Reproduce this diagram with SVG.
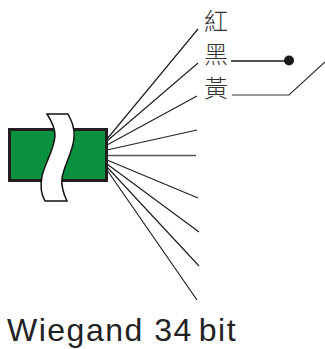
<svg xmlns="http://www.w3.org/2000/svg" width="325" height="349" viewBox="0 0 325 349">
<style>
.w{stroke:#222;stroke-width:1.2;fill:none}
.c{font-family:"Noto Sans CJK TC","Noto Sans CJK SC",sans-serif;font-size:24px;font-weight:300;fill:#333}
.t{font-family:"Liberation Sans",Arial,sans-serif;font-size:32px;fill:#222;letter-spacing:1.5px}
</style>
<rect width="325" height="349" fill="#fff"/>
<g id="connectors">
<path class="w" d="M107 139L198 29M107 141L198 63M107 145L197 96M107 150L197 130"/>
<path d="M107 155.500H196" stroke="#555" stroke-width="1.300" fill="none"/>
<path class="w" d="M107 160L198 198M107 164L199 232M107 167L199 266M107 170L197 300"/>
<path d="M231 61H289" stroke="#1a1a1a" stroke-width="1.600" fill="none"/>
<circle cx="289" cy="60.500" r="5" fill="#1a1a1a"/>
<path d="M232 95H289L325 62" stroke="#333" stroke-width="1.200" fill="none"/>
</g>
<g id="module">
<rect x="9.500" y="129.500" width="97" height="51" fill="#0a9140" stroke="#231f20" stroke-width="3"/>
<path d="M47 114H68C72 122 75 128 74 138C73 152 64 165 62 178C61 188 64 195 67 201H45C41 194 40 186 42 176C45 163 54 150 55 136C55 127 51 120 47 114Z" fill="#fff" stroke="#111" stroke-width="1.500"/>
</g>
<g id="label-red"><text class="c" x="204" y="30">紅</text></g>
<g id="label-black"><text class="c" x="204" y="63">黑</text></g>
<g id="label-yellow"><text class="c" x="204" y="97">黃</text></g>
<g id="caption"><text class="t" x="7" y="341">Wiegand 34<tspan dx="6">bit</tspan></text></g>
</svg>
